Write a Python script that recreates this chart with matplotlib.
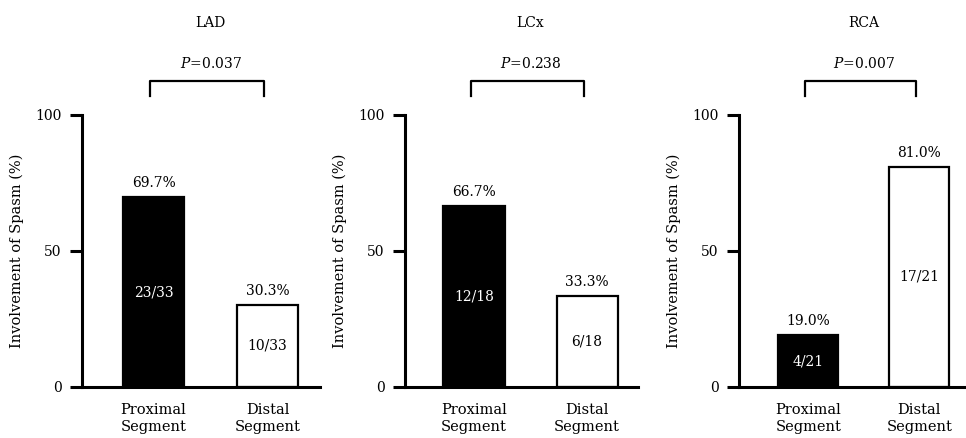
import matplotlib
matplotlib.use('Agg')
import matplotlib.pyplot as plt

# data
vessels = ['LAD', 'LCx', 'RCA']
p_values = ['0.037', '0.238', '0.007']
segments = ['Proximal\nSegment', 'Distal\nSegment']
percent = [[69.7, 30.3], [66.7, 33.3], [19.0, 81.0]]
counts = [['23/33', '10/33'], ['12/18', '6/18'], ['4/21', '17/21']]
bar_colors = ['black', 'white']

plt.rcParams['font.family'] = 'DejaVu Serif'
plt.rcParams['mathtext.fontset'] = 'dejavuserif'

W, H = 966, 438
fig = plt.figure(figsize=(W / 100, H / 100), dpi=100)

# panel boxes in pixels: left, axis right end, x limits
panels = [(82, 320, (-0.627, 1.46)),
          (405, 638, (-0.61, 1.45)),
          (739, 966, (-0.626, 1.42))]
y0_px, y1_px = 387, 115

for i, (left, right, xl) in enumerate(panels):
    ax = fig.add_axes([left / W, (H - y0_px) / H, (right - left) / W, (y0_px - y1_px) / H])
    xs = [0, 1]
    ax.bar(xs, percent[i], width=0.54, color=bar_colors, edgecolor='black', linewidth=1.6, zorder=2)
    ax.set_xlim(*xl)
    ax.set_ylim(0, 100)

    for s in ['top', 'right']:
        ax.spines[s].set_visible(False)
    for s in ['left', 'bottom']:
        ax.spines[s].set_linewidth(2.2)

    ax.set_yticks([0, 50, 100])
    ax.tick_params(axis='y', length=8.5, width=2.2, pad=6, labelsize=10)
    ax.set_xticks(xs)
    ax.set_xticklabels(segments, fontsize=10.5, linespacing=1.3)
    ax.tick_params(axis='x', length=0, pad=11.5)
    ax.set_ylabel('Involvement of Spasm (%)', fontsize=10.5, labelpad=8)

    for x, v, c, col in zip(xs, percent[i], counts[i], bar_colors):
        ax.annotate(f'{v:.1f}%', (x, v), xytext=(0, 5), textcoords='offset points',
                    ha='center', va='bottom', fontsize=10)
        ax.text(x, v / 2, c, ha='center', va='center', fontsize=10,
                color='white' if col == 'black' else 'black')

    # bracket and p value
    bx0, bx1 = -0.03, 0.97
    ax.plot([bx0, bx0, bx1, bx1], [107, 112.5, 112.5, 107], color='black',
            linewidth=1.6, clip_on=False)
    ax.text(0.5, 119, f'$P$=' + p_values[i], ha='center', va='center', fontsize=10)
    ax.text(0.5, 134, vessels[i], ha='center', va='center', fontsize=10)

plt.savefig('out.png', dpi=100)
